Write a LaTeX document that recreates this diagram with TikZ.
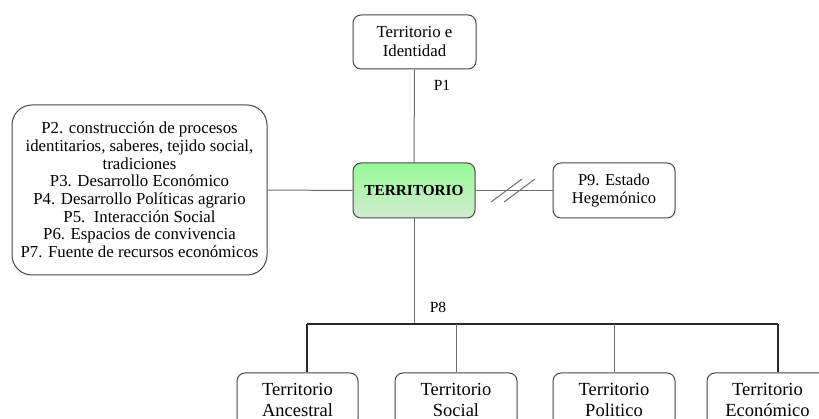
\documentclass[tikz,border=0pt]{standalone}
\usepackage{fontspec}
\setmainfont{Liberation Serif}
\definecolor{linegray}{RGB}{110,110,110}
\definecolor{boxgray}{RGB}{70,70,70}
\definecolor{greentop}{RGB}{150,250,150}
\definecolor{greenbot}{RGB}{212,234,210}
\definecolor{barcol}{RGB}{40,40,40}
\begin{document}
\begin{tikzpicture}[x=1pt,y=-1pt,
  box/.style={draw=boxgray, line width=1pt, rounded corners=8pt, fill=white, align=center, inner sep=0pt,
    font=\fontsize{16.5}{18.5}\selectfont},
  conn/.style={draw=linegray, line width=1pt},
  bar/.style={draw=barcol, line width=2pt},
  lbl/.style={font=\fontsize{15.5}{18}\selectfont, inner sep=0pt}]
\path[use as bounding box, clip] (0,0) rectangle (819,419);
\fill[white] (0,0) rectangle (819,419);
% nodes
\node[box, minimum width=123pt, minimum height=54pt, font=\fontsize{16.8}{19}\selectfont] (top) at (414.5,42) {Territorio e\\Identidad};
\node[box, rounded corners=20pt, minimum width=255pt, minimum height=170pt, font=\fontsize{16.8}{17.7}\selectfont] (left) at (139.5,190)
  {P2. construcción de procesos\\identitarios, saberes, tejido social,\\tradiciones\\P3. Desarrollo Económico\\P4. Desarrollo Políticas agrario\\P5.\ \ Interacción Social\\P6. Espacios de convivencia\\P7. Fuente de recursos económicos};
\node[box, top color=greentop, bottom color=greenbot, minimum width=122pt, minimum height=55pt,
  font=\fontsize{15.3}{18}\selectfont\bfseries] (terr) at (414,190.5) {TERRITORIO};
\node[box, minimum width=122pt, minimum height=55pt] (p9) at (614,190.5) {P9. Estado\\Hegemónico};
\tikzset{bbox/.style={box, minimum width=122pt, minimum height=54pt, font=\fontsize{18.5}{21}\selectfont}}
\node[bbox, minimum width=121pt] (b1) at (297.5,400) {Territorio\\Ancestral};
\node[bbox] (b2) at (456,400) {Territorio\\Social};
\node[bbox] (b3) at (614,400) {Territorio\\Politico};
\node[bbox, minimum width=121pt] (b4) at (767.5,400) {Territorio\\Económico};
% connectors
\draw[conn] (top.south) -- (terr.north);
\node[lbl] (p1) at (442,85) {P1};
\draw[conn] (left.east) -- (terr.west);
\draw[conn] (terr.east) -- (p9.west);
\coordinate (s1a) at (491,202); \coordinate (s1b) at (522,179);
\coordinate (s2a) at (504,202); \coordinate (s2b) at (535,179);
\draw[conn] (s1a) -- (s1b);
\draw[conn] (s2a) -- (s2b);
\coordinate (hub) at (414,324);
\coordinate (barL) at (307,324);
\coordinate (barR) at (778,324);
\draw[conn] (terr.south) -- (hub);
\node[lbl] (p8) at (438,307) {P8};
\draw[bar] (barL) -- (barR);
\draw[bar] (barL) -- (barL |- b1.north);
\draw[bar] (barR) -- (barR |- b4.north);
\draw[conn] (b2.north |- hub) -- (b2.north);
\draw[conn] (b3.north |- hub) -- (b3.north);
\end{tikzpicture}
\end{document}
